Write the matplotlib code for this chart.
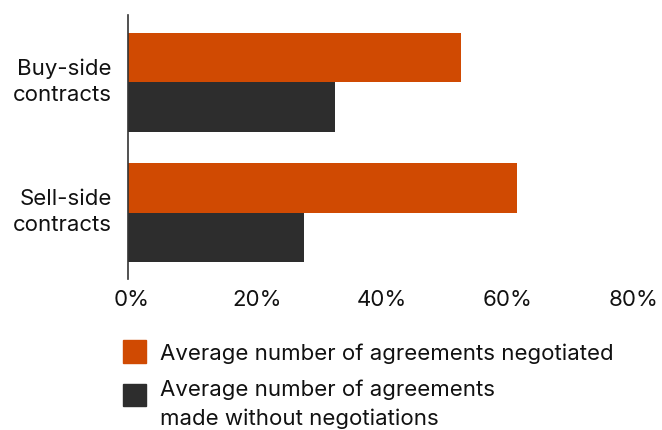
import matplotlib.pyplot as plt
from matplotlib.patches import Rectangle
from matplotlib.transforms import ScaledTranslation
import numpy as np

plt.rcParams['font.family'] = ['Inter', 'DejaVu Sans']

categories = ['Buy-side\ncontracts', 'Sell-side\ncontracts']
negotiated = [53, 62]
without_negotiation = [33, 28]
xticks = [0, 20, 40, 60, 80]
legend_labels = ['Average number of agreements negotiated',
                 'Average number of agreements\nmade without negotiations']

orange = '#D04A02'
dark = '#2D2D2D'
text_col = '#111111'
fs = 16

fig = plt.figure(figsize=(6.62, 4.30), dpi=100)
ax = fig.add_axes([0.194, 0.351, 0.758, 0.614])

y = np.arange(len(categories))
h = 0.38
ax.barh(y - h / 2, negotiated, height=h, color=orange)
ax.barh(y + h / 2, without_negotiation, height=h, color=dark)

ax.set_xlim(0, 80)
ax.set_ylim(1.508, -0.516)
ax.set_xticks(xticks)
ax.set_xticklabels([f'{t}%' for t in xticks], fontsize=fs, color=text_col)
ax.set_yticks(y)
ax.set_yticklabels(categories, fontsize=fs, color=text_col, linespacing=1.4)
ax.tick_params(axis='both', length=0)
ax.tick_params(axis='x', pad=8)
ax.tick_params(axis='y', pad=12)

# small nudges so the labels sit where the original has them
for lab in ax.get_xticklabels():
    lab.set_transform(lab.get_transform() + ScaledTranslation(3 / 100, 0, fig.dpi_scale_trans))
for lab in ax.get_yticklabels():
    lab.set_transform(lab.get_transform() + ScaledTranslation(0, 6 / 100, fig.dpi_scale_trans))

for s in ['top', 'right', 'bottom']:
    ax.spines[s].set_visible(False)
ax.spines['left'].set_color('#333333')
ax.spines['left'].set_linewidth(1.2)

# legend drawn by hand so the square sits beside the first line
W, H = 662, 430
sq_tops = [340, 383.5]
baselines = [[359.5], [396.5, 425]]
for col, lab, top, bls in zip([orange, dark], legend_labels, sq_tops, baselines):
    fig.patches.append(Rectangle((123 / W, 1 - (top + 22.5) / H), 22.5 / W, 22.5 / H,
                                 transform=fig.transFigure, color=col))
    for line, bl in zip(lab.split('\n'), bls):
        fig.text(160 / W, 1 - bl / H, line, fontsize=fs, color=text_col,
                 va='baseline', ha='left')

fig.savefig('out.png', dpi=100)
